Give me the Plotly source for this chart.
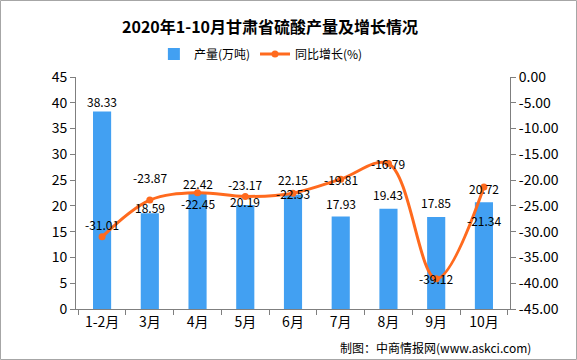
import plotly.graph_objects as go

categories = ["1-2月", "3月", "4月", "5月", "6月", "7月", "8月", "9月", "10月"]
output_values = [38.33, 18.59, 22.42, 20.19, 22.15, 17.93, 19.43, 17.85, 20.72]
growth_values = [-31.01, -23.87, -22.45, -23.17, -22.53, -19.81, -16.79, -39.12, -21.34]
left_ticks = [0, 5, 10, 15, 20, 25, 30, 35, 40, 45]
right_ticks = [0, -5, -10, -15, -20, -25, -30, -35, -40, -45]
right_tick_text = ["0.00", "-5.00", "-10.00", "-15.00", "-20.00", "-25.00", "-30.00", "-35.00", "-40.00", "-45.00"]

# label pixel offsets (text centre relative to mark)
bar_label_shift = [10, 6, 10, 3, 15, 13, 14, 14, 14]
line_label_shift = [12, 23, -11, 12, 0, 0, 0, 0, -33]

FONT = "Noto Sans CJK SC"
BLUE = "#42a0f2"
ORANGE = "#ff6a1e"
GRAY = "#7f7f7f"

fig = go.Figure()
fig.add_trace(go.Bar(
    x=categories, y=output_values, name="产量(万吨)",
    marker=dict(color=BLUE, line=dict(width=0)), width=0.38,
    yaxis="y",
))
fig.add_trace(go.Scatter(
    x=categories, y=growth_values, name="同比增长(%)",
    mode="lines+markers", line=dict(color=ORANGE, width=3, shape="spline", smoothing=1),
    marker=dict(color=ORANGE, size=7), yaxis="y2",
))

for c, v, s in zip(categories, output_values, bar_label_shift):
    fig.add_annotation(x=c, y=v, xref="x", yref="y", text=f"{v:.2f}", showarrow=False,
                       yshift=s, font=dict(family=FONT, size=12, color="#000"))
for c, v, s in zip(categories, growth_values, line_label_shift):
    fig.add_annotation(x=c, y=v, xref="x", yref="y2", text=f"-{abs(v):.2f}", showarrow=False,
                       yshift=s, font=dict(family=FONT, size=12, color="#000"))

fig.add_annotation(x=1.053, y=-0.164, xref="paper", yref="paper", xanchor="right", yanchor="middle",
                   text="制图：中商情报网(www.askci.com)", showarrow=False,
                   font=dict(family=FONT, size=12, color="#000"))

# outer border
fig.add_shape(type="rect", xref="paper", yref="paper",
              x0=(0.5 - 76) / 434, x1=(576.5 - 76) / 434,
              y0=(309 - 359.5) / 232, y1=(309 - 0.5) / 232,
              line=dict(color="#a6a6a6", width=1), fillcolor="rgba(0,0,0,0)", layer="below")

fig.update_layout(
    width=577, height=360,
    margin=dict(l=76, r=67, t=77, b=51, autoexpand=False),
    paper_bgcolor="white", plot_bgcolor="white",
    title=dict(text="<b>2020年1-10月甘肃省硫酸产量及增长情况</b>", x=0.468, xanchor="center",
               y=0.925, yanchor="middle", font=dict(family=FONT, size=16, color="#000")),
    font=dict(family=FONT, size=12, color="#000"),
    showlegend=True,
    legend=dict(orientation="h", x=0.426, xanchor="center", y=1.099, yanchor="middle",
                font=dict(family=FONT, size=12, color="#000"), itemwidth=30,
                bgcolor="rgba(0,0,0,0)"),
    bargap=0.62,
    xaxis=dict(showline=True, linecolor=GRAY, ticks="outside", tickson="boundaries",
               ticklen=5, tickcolor=GRAY, showgrid=False,
               tickfont=dict(family=FONT, size=14, color="#000")),
    yaxis=dict(range=[0, 45], tickvals=left_ticks, showline=True, linecolor=GRAY,
               ticks="outside", ticklen=5, tickcolor=GRAY, showgrid=False, zeroline=False,
               tickfont=dict(family=FONT, size=14, color="#000")),
    yaxis2=dict(range=[-45, 0], overlaying="y", side="right", tickvals=right_ticks,
                ticktext=right_tick_text, showline=True, linecolor=GRAY, ticks="outside",
                ticklen=5, tickcolor=GRAY, showgrid=False, zeroline=False,
                tickfont=dict(family=FONT, size=14, color="#000")),
)

fig.write_html("out.html", post_script="document.body.style.margin='0';",
               config={"displayModeBar": False})
